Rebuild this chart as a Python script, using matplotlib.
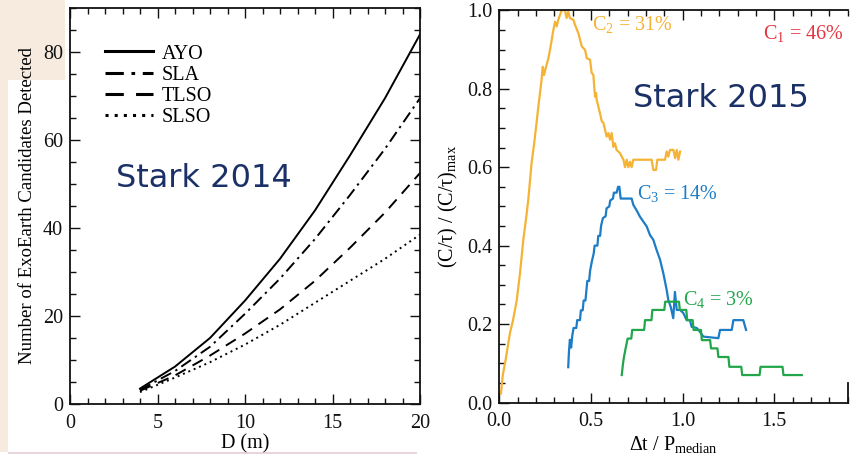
import matplotlib
matplotlib.use("Agg")
import matplotlib.pyplot as plt
from matplotlib.lines import Line2D
from matplotlib.patches import Rectangle
from matplotlib.ticker import MultipleLocator

plt.rcParams['font.family'] = ['Liberation Serif', 'DejaVu Serif']
plt.rcParams['mathtext.fontset'] = 'custom'
plt.rcParams['mathtext.rm'] = 'Liberation Serif'
plt.rcParams['mathtext.it'] = 'Liberation Serif:italic'
plt.rcParams['mathtext.default'] = 'rm'

# ---------------- Left panel data (Stark 2014) ----------------
D = [4, 6, 8, 10, 12, 14, 16, 18, 20]
ayo = [3.5, 8.5, 15, 23.5, 33, 44, 56.5, 69.5, 84]
sla = [3.2, 7.5, 13, 20.5, 28.5, 37.5, 47.5, 58, 69.5]
tlso = [3.0, 6.5, 11, 16, 21.5, 28, 35.5, 43.5, 52.5]
slso = [2.7, 6.0, 9.5, 13.5, 18, 23, 28, 33, 38.5]
left_names = ['AYO', 'SLA', 'TLSO', 'SLSO']

# ---------------- Right panel data (Stark 2015) ----------------
c2_x = [0.009, 0.019, 0.035, 0.058, 0.075, 0.095, 0.113, 0.131, 0.149, 0.158,
        0.176, 0.19, 0.20, 0.212, 0.222, 0.230, 0.237, 0.244, 0.255, 0.268,
        0.28, 0.295, 0.304, 0.313, 0.322, 0.34, 0.358, 0.367, 0.376, 0.385,
        0.404, 0.413, 0.431, 0.45, 0.468, 0.477, 0.495, 0.504, 0.513, 0.522,
        0.528, 0.531, 0.54, 0.549, 0.559, 0.568, 0.577, 0.586, 0.595, 0.604,
        0.613, 0.622, 0.631, 0.64, 0.658, 0.677, 0.686, 0.695, 0.704, 0.713,
        0.722, 0.731, 0.831, 0.84, 0.855, 0.862, 0.904, 0.913, 0.922, 0.931,
        0.95, 0.959, 0.968, 0.977, 0.986]
c2_y = [0.023, 0.07, 0.11, 0.177, 0.21, 0.26, 0.33, 0.415, 0.48, 0.517,
        0.61, 0.66, 0.70, 0.75, 0.789, 0.82, 0.856, 0.835, 0.856, 0.878,
        0.908, 0.95, 0.971, 0.959, 0.976, 1.0, 1.0, 0.98, 0.997, 0.98,
        0.976, 0.963, 0.942, 0.908, 0.899, 0.878, 0.874, 0.84, 0.836, 0.78,
        0.789, 0.772, 0.755, 0.738, 0.717, 0.713, 0.695, 0.678, 0.687, 0.67,
        0.687, 0.652, 0.661, 0.644, 0.636, 0.619, 0.60, 0.619, 0.60, 0.614,
        0.60, 0.619, 0.619, 0.593, 0.593, 0.619, 0.619, 0.64, 0.627, 0.644,
        0.644, 0.623, 0.644, 0.619, 0.64]

c3_x = [0.376, 0.380, 0.385, 0.392, 0.398, 0.405, 0.42, 0.425, 0.44, 0.445,
        0.455, 0.46, 0.47, 0.475, 0.48, 0.49, 0.495, 0.505, 0.515, 0.52,
        0.535, 0.54, 0.55, 0.555, 0.565, 0.58, 0.585, 0.60, 0.605, 0.62,
        0.625, 0.64, 0.648, 0.655, 0.662, 0.722, 0.731, 0.749, 0.767, 0.786,
        0.804, 0.822, 0.84, 0.858, 0.877, 0.895, 0.913, 0.922, 0.935, 0.949,
        0.958, 0.968, 0.986, 1.004, 1.022, 1.04, 1.049, 1.077, 1.095, 1.113,
        1.195, 1.204, 1.268, 1.277, 1.331, 1.346]
c3_y = [0.09, 0.13, 0.16, 0.14, 0.17, 0.19, 0.19, 0.21, 0.21, 0.235,
        0.235, 0.26, 0.26, 0.285, 0.31, 0.31, 0.335, 0.36, 0.38, 0.40,
        0.40, 0.425, 0.425, 0.45, 0.47, 0.475, 0.495, 0.50, 0.515, 0.52,
        0.535, 0.535, 0.55, 0.55, 0.52, 0.52, 0.504, 0.49, 0.474, 0.461,
        0.449, 0.427, 0.415, 0.389, 0.364, 0.329, 0.287, 0.261, 0.244, 0.215,
        0.282, 0.236, 0.236, 0.228, 0.21, 0.21, 0.193, 0.19, 0.18, 0.168,
        0.164, 0.185, 0.185, 0.21, 0.21, 0.185]

c4_x = [0.668, 0.675, 0.68, 0.69, 0.70, 0.72, 0.725, 0.79, 0.795, 0.83,
        0.835, 0.90, 0.905, 0.98, 0.985, 1.02, 1.025, 1.055, 1.06, 1.10,
        1.105, 1.15, 1.155, 1.19, 1.195, 1.25, 1.255, 1.32, 1.325, 1.42,
        1.425, 1.545, 1.55, 1.65]
c4_y = [0.07, 0.10, 0.116, 0.14, 0.163, 0.163, 0.185, 0.185, 0.21, 0.21,
        0.236, 0.236, 0.257, 0.257, 0.236, 0.236, 0.21, 0.21, 0.185, 0.185,
        0.159, 0.159, 0.138, 0.138, 0.116, 0.116, 0.091, 0.091, 0.07, 0.07,
        0.091, 0.091, 0.07, 0.07]

c_labels = [r'C$_1$ = 46%', r'C$_2$ = 31%', r'C$_3$ = 14%', r'C$_4$ = 3%']

ORANGE = '#f5b335'
BLUE = '#1c7cc6'
GREEN = '#22a64a'
RED = '#e3343f'
NAVY = '#1b3066'

W, H = 859, 462
fig = plt.figure(figsize=(W / 100, H / 100), dpi=100)
fig.patch.set_facecolor('white')

# slide background artifacts
for (x0, y0, w, h, c) in [(0, 0, 65, 80, '#f6ebde'), (0, 0, 8, 452, '#f6ebde'),
                          (8, 452, 409, 2, '#e8d6dc')]:
    fig.patches.append(Rectangle((x0 / W, 1 - (y0 + h) / H), w / W, h / H,
                                 transform=fig.transFigure, facecolor=c,
                                 edgecolor='none', zorder=-10))


def style_axis(ax):
    ax.tick_params(which='both', direction='in', top=True, right=True,
                   labelsize=14.5, colors='#111111', width=1.0)
    ax.tick_params(which='major', length=7)
    ax.tick_params(which='minor', length=4)
    ax.tick_params(axis='x', which='major', pad=7)
    ax.tick_params(axis='y', which='major', pad=5)
    for s in ax.spines.values():
        s.set_linewidth(1.3)
        s.set_color('#111111')


# ---------------- Left axes ----------------
axL = fig.add_axes([70 / W, 1 - 404 / H, 350 / W, 396 / H])
axL.set_facecolor('white')
styles = ['-', (0, (6, 2.5, 1.2, 2.5)), (0, (6, 4)), (0, (1, 2))]
series = [ayo, sla, tlso, slso]
for ys, ls in zip(series, styles):
    axL.plot(D, ys, color='black', linestyle=ls, linewidth=1.4)
axL.set_xlim(0, 20)
axL.set_ylim(0, 90)
axL.xaxis.set_major_locator(MultipleLocator(5))
axL.xaxis.set_minor_locator(MultipleLocator(1))
axL.yaxis.set_major_locator(MultipleLocator(20))
axL.yaxis.set_minor_locator(MultipleLocator(5))
style_axis(axL)
axL.set_xlabel('D (m)', fontsize=14.5, labelpad=1)
axL.set_ylabel('Number of ExoEarth Candidates Detected', fontsize=13.5, labelpad=5)
handles = [Line2D([], [], color='black', linestyle=ls, linewidth=2.2) for ls in styles]
axL.legend(handles, left_names, loc='upper left', bbox_to_anchor=(0.1, 0.908),
           frameon=False, fontsize=14.5, borderpad=0, borderaxespad=0,
           handlelength=2.4, handletextpad=0.4, labelspacing=0.1)
axL.text(0.13, 0.57, 'Stark 2014', transform=axL.transAxes, fontsize=23,
         family='DejaVu Sans', color=NAVY, ha='left', va='center')

# ---------------- Right axes ----------------
axR = fig.add_axes([499.3 / W, 1 - 402.5 / H, 348.3 / W, 392.2 / H])
axR.set_facecolor('white')
axR.plot(c2_x, c2_y, color=ORANGE, linewidth=1.6)
axR.plot(c3_x, c3_y, color=BLUE, linewidth=1.6)
axR.plot(c4_x, c4_y, color=GREEN, linewidth=1.6)
axR.set_xlim(0, 1.9)
axR.set_ylim(0, 1.0)
axR.xaxis.set_major_locator(MultipleLocator(0.5))
axR.xaxis.set_minor_locator(MultipleLocator(0.1))
axR.yaxis.set_major_locator(MultipleLocator(0.2))
axR.yaxis.set_minor_locator(MultipleLocator(0.05))
axR.xaxis.set_major_formatter(plt.FuncFormatter(lambda v, p: f'{v:.1f}'))
axR.yaxis.set_major_formatter(plt.FuncFormatter(lambda v, p: f'{v:.1f}'))
style_axis(axR)
axR.tick_params(which='both', right=False)
axR.spines['right'].set_visible(False)
axR.axvline(1.9, ymin=0, ymax=0.05, color='#111111', linewidth=1.3, clip_on=False)
axR.set_xlabel(r'$\Delta$t / P$_{\rm median}$', fontsize=14.5, labelpad=2)
axR.set_ylabel(r'(C/$\tau$) / (C/$\tau$)$_{\rm max}$', fontsize=14.5, labelpad=5)

axR.text(1.44, 0.94, c_labels[0], color=RED, fontsize=14.5, ha='left', va='center')
axR.text(0.505, 0.965, c_labels[1], color=ORANGE, fontsize=14.5, ha='left', va='center')
axR.text(0.75, 0.534, c_labels[2], color=BLUE, fontsize=14.5, ha='left', va='center')
axR.text(1.0, 0.262, c_labels[3], color=GREEN, fontsize=14.5, ha='left', va='center')
axR.text(0.73, 0.775, 'Stark 2015', fontsize=23, family='DejaVu Sans',
         color=NAVY, ha='left', va='center')

fig.savefig('out.png', dpi=100, facecolor='white')
